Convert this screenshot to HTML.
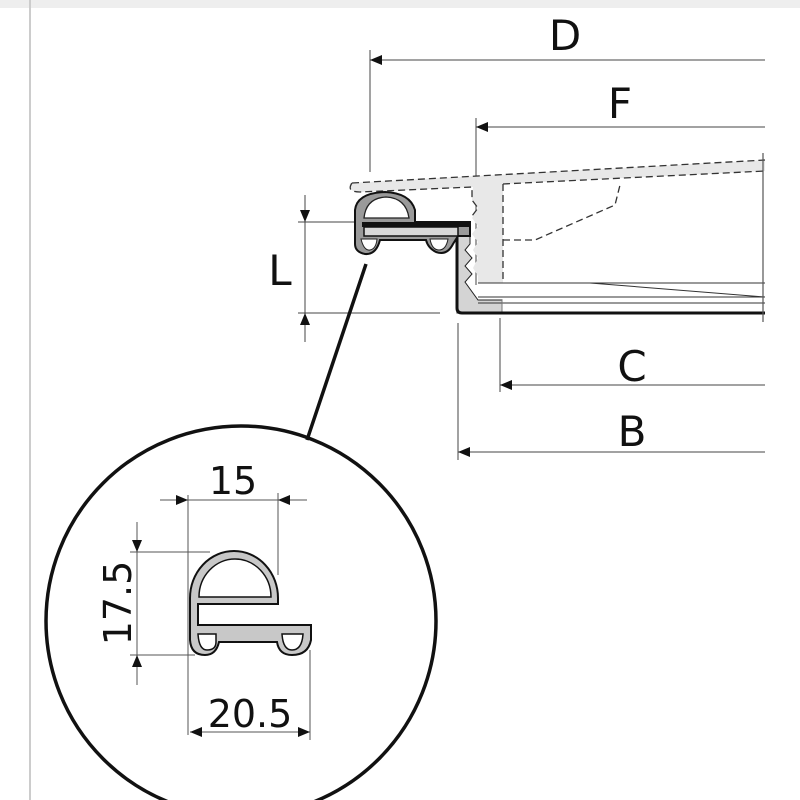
<!DOCTYPE html>
<html><head><style>body{margin:0;background:#fff}svg{display:block}text{font-family:"DejaVu Sans","Liberation Sans",sans-serif;fill:#111}</style></head>
<body>
<svg width="800" height="800" viewBox="0 0 800 800" xmlns="http://www.w3.org/2000/svg">
<defs>
<marker id="a" viewBox="0 0 12 10" refX="12" refY="5" markerWidth="14" markerHeight="10" orient="auto-start-reverse" markerUnits="userSpaceOnUse"><path d="M0,0L12,5L0,10z" fill="#111"/></marker>
</defs>
<rect x="0" y="0" width="800" height="8" fill="#eee"/>
<line x1="30" y1="0" x2="30" y2="800" stroke="#ccc" stroke-width="2"/>
<g stroke="#444" stroke-width="1" fill="none">
<line x1="370" y1="50" x2="370" y2="172"/>
<line x1="370" y1="60" x2="765" y2="60" marker-start="url(#a)"/>
<line x1="476" y1="118" x2="476" y2="285"/>
<line x1="476" y1="127" x2="765" y2="127" marker-start="url(#a)"/>
<line x1="500" y1="318" x2="500" y2="392"/>
<line x1="500" y1="385" x2="765" y2="385" marker-start="url(#a)"/>
<line x1="458" y1="323" x2="458" y2="460"/>
<line x1="458" y1="452" x2="765" y2="452" marker-start="url(#a)"/>
<line x1="298" y1="222" x2="360" y2="222"/>
<line x1="298" y1="313" x2="440" y2="313"/>
<line x1="305" y1="195" x2="305" y2="222" marker-end="url(#a)"/>
<line x1="305" y1="222" x2="305" y2="313"/>
<line x1="305" y1="342" x2="305" y2="313" marker-end="url(#a)"/>
</g>
<text x="565" y="50" font-size="42" text-anchor="middle">D</text>
<text x="620" y="118" font-size="42" text-anchor="middle">F</text>
<text x="632" y="381" font-size="42" text-anchor="middle">C</text>
<text x="632" y="446" font-size="42" text-anchor="middle">B</text>
<text x="280" y="285" font-size="42" text-anchor="middle">L</text>
<path d="M350,183 L765,160 L765,171 L503,184 L503,283 L478,283 L478,276 L473,268 L478,258 L473,250 L478,242 L472,234 L478,226 L472,218 L478,208 L472,200 L473,187 L360,192 Q348,192 350,183 Z" fill="#e8e8e8"/>
<path d="M352,183 Q346,192 360,192 L472,187 L472,200 L478,208 L472,216 M503,184 L765,171 M352,183 L765,160" stroke="#333" stroke-dasharray="7,4" fill="none" stroke-width="1.3"/>
<path d="M503,184 L503,282 M503,240 L535,240 L615,205 L620,185" stroke="#333" stroke-dasharray="7,4" fill="none" stroke-width="1.3"/>
<path d="M457,236 L470,236 L470,244 L465,250 L472,258 L465,266 L472,274 L465,282 L478,300 L502,300 L502,313 L457,313 Z" fill="#d4d4d4" stroke="#222" stroke-width="1"/>
<path d="M478,283 L765,283 M590,283 L765,297 M478,297 L765,297 M478,303 L765,303" stroke="#333" stroke-width="1" fill="none"/>
<line x1="502" y1="300" x2="502" y2="313" stroke="#777"/>
<path d="M457,235 L457,308 Q457,313 462,313 L765,313" stroke="#111" stroke-width="3" fill="none"/>
<line x1="763" y1="153" x2="763" y2="322" stroke="#555" stroke-width="1.2"/>
<path d="M355,244 L355,210 Q357,193 385,192 Q410,193 415,210 L415,222 L470,222 L470,236 L458,236 L453,244 Q447,256 436,252 Q428,248 426,240 L380,240 Q376,255 365,254 Q355,252 355,244 Z" fill="#9a9a9a" stroke="#111" stroke-width="2"/>
<path d="M364,218 Q366,198 386,197 Q406,198 409,218 Z" fill="#fff" stroke="#222" stroke-width="1.3"/>
<rect x="362" y="222" width="108" height="5" fill="#111"/>
<rect x="364" y="227" width="94" height="9" fill="#d8d8d8" stroke="#111" stroke-width="1.5"/>
<path d="M361,239 Q364,251 370,250 Q376,249 377,239 Z M430,239 Q432,250 439,250 Q446,250 448,239 Z" fill="#fff" stroke="#222"/>
<line x1="366" y1="264" x2="307" y2="440" stroke="#111" stroke-width="3.5"/>
<circle cx="241" cy="621" r="195" fill="none" stroke="#111" stroke-width="3.5"/>
<g stroke="#555" stroke-width="1" fill="none">
<line x1="188" y1="495" x2="188" y2="735"/>
<line x1="278" y1="493" x2="278" y2="575"/>
<line x1="310" y1="650" x2="310" y2="740"/>
<line x1="130" y1="552" x2="210" y2="552"/>
<line x1="130" y1="655" x2="195" y2="655"/>
<line x1="160" y1="500" x2="188" y2="500" marker-end="url(#a)"/>
<line x1="188" y1="500" x2="278" y2="500"/>
<line x1="307" y1="500" x2="278" y2="500" marker-end="url(#a)"/>
<line x1="137" y1="522" x2="137" y2="552" marker-end="url(#a)"/>
<line x1="137" y1="552" x2="137" y2="655"/>
<line x1="137" y1="685" x2="137" y2="655" marker-end="url(#a)"/>
<line x1="190" y1="732" x2="310" y2="732" marker-start="url(#a)" marker-end="url(#a)"/>
</g>
<path d="M190,640 L190,598 A44,47 0 0 1 278,598 L278,604 L198,604 L198,625 L311,625 L311,640 Q308,655 292,655 Q279,655 277,642 L219,642 Q216,655 205,655 Q191,655 190,640 Z" fill="#c8c8c8" stroke="#111" stroke-width="2"/>
<path d="M199,597 A36,38 0 0 1 271,597 Z" fill="#fff" stroke="#111" stroke-width="1.5"/>
<path d="M198,634 Q199,650 207,650 Q216,650 216,642 L216,634 Z M282,634 Q283,650 292,650 Q302,650 303,634 Z" fill="#fff" stroke="#111" stroke-width="1.5"/>
<text x="233" y="494" font-size="38" text-anchor="middle">15</text>
<text x="250" y="727" font-size="38" text-anchor="middle">20.5</text>
<text x="0" y="0" font-size="38" text-anchor="middle" transform="translate(131,603) rotate(-90)">17.5</text>
</svg>
</body></html>
